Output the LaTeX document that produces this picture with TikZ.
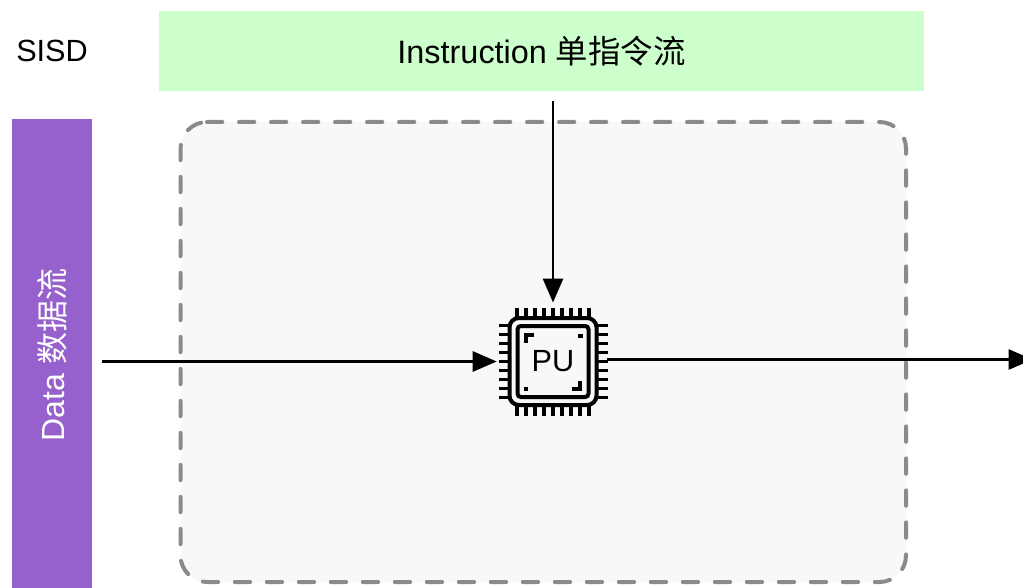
\documentclass[tikz,border=0pt]{standalone}
\usepackage{fontspec}
\setmainfont{Liberation Sans}
\newfontfamily\cjk{Noto Sans CJK SC}
\usepackage{tikz}
\usetikzlibrary{arrows.meta}
\usetikzlibrary{positioning}
\definecolor{streamgreen}{HTML}{CCFFCC}
\definecolor{streampurple}{HTML}{9661CC}
\definecolor{corefill}{HTML}{F8F8F8}
\definecolor{coreedge}{HTML}{8A8A8A}
\tikzstyle{stream} = [rectangle, inner sep=0pt, font=\fontsize{24.3}{28}\selectfont]
\tikzstyle{core} = [draw=coreedge, fill=corefill, line width=3pt, dash pattern=on 11.5pt off 12.5pt, line cap=round, radius=26.5]
\tikzstyle{line} = [draw, line width=2pt, -{Triangle[length=18pt, width=15pt]}]
\tikzstyle{chip} = [draw, line width=3pt]
\tikzstyle{pin} = [draw, line width=2.4pt]
\tikzstyle{pu} = [minimum size=81pt, inner sep=0pt, font=\fontsize{23}{27}\selectfont]

\begin{document}
\begin{tikzpicture}[x=0.75pt, y=-0.75pt]
	\useasboundingbox (0,0) rectangle (1023,588);
	\path [core] (207,122) -- (879.5,122) arc[start angle=270, end angle=360]
		-- (906,555.5) arc[start angle=0, end angle=90]
		-- (207,582) arc[start angle=90, end angle=180]
		-- (180.5,148.5) arc[start angle=180, end angle=270] -- cycle;
	\node [stream, fill=streamgreen, minimum width=574pt, minimum height=60pt] (Inst) at (541.5,51) {Instruction {\cjk 单指令流}};
	\node [stream, fill=streampurple, text=white, rotate=90, minimum width=354pt, minimum height=60pt, font=\fontsize{24}{28}\selectfont] (Data) at (52,355) {Data {\cjk 数据流}};
	\node [font=\fontsize{23}{27}\selectfont, inner sep=0pt, anchor=west] (Sisd) at (16,50.5) {SISD};
	\node [pu] (PU) at (553,361.5) {PU};
	\coordinate[below=7.5pt of Inst.south -| PU] (h1);
	\coordinate[right=7.5pt of Data.south |- PU] (h2);
	\coordinate[left=1.5pt of PU.west] (h5);
	\coordinate[above=3.5pt of PU.north] (h4);
	\coordinate[above=1.5pt of PU.east] (h6);
	\coordinate[right=319pt of h6] (h3);
	%% Chip
	\begin{scope}[shift={(PU.center)}]
		\foreach \k in {-4,...,4} {
			\draw [pin] (-54.5,9*\k) -- (-44,9*\k);
			\draw [pin] (44,9*\k) -- (54.5,9*\k);
			\draw [pin] (9*\k,-54) -- (9*\k,-44);
			\draw [pin] (9*\k,44) -- (9*\k,54);
		}
		\draw [chip, rounded corners=7pt] (-43.5,-43.5) rectangle (43.5,43.5);
		\draw [chip, rounded corners=2.5pt] (-35.5,-35.5) rectangle (35.5,35.5);
		\draw [chip, line cap=butt] (-27,-19) -- (-27,-27) -- (-19,-27);
		\draw [chip, line cap=butt] (27,19) -- (27,27) -- (19,27);
		\fill (25,-28) rectangle (29.5,-24);
		\fill (-29,25) rectangle (-25,29.5);
	\end{scope}
	%% Flows
	\path [line] (h1) to (h4);
	\path [line] (h2) to (h5);
	\path [line] (h6) to (h3);
\end{tikzpicture}
\end{document}
